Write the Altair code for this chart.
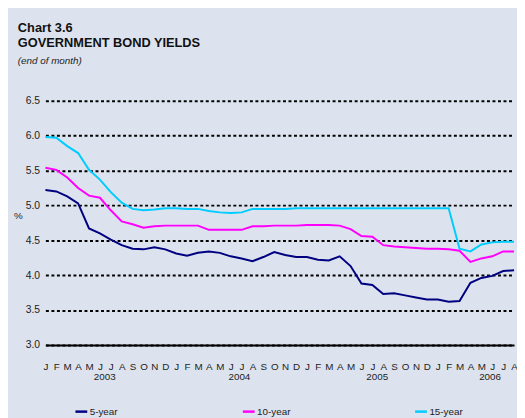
import altair as alt
import pandas as pd

# ---- data ----
month_letters = ["J", "F", "M", "A", "M", "J", "J", "A", "S", "O", "N", "D"]
month_index = list(range(44))  # Jan 2003 .. Aug 2006

yield_5 = [5.22, 5.20, 5.13, 5.03, 4.67, 4.60, 4.51, 4.43, 4.38, 4.37, 4.40, 4.37,
           4.31, 4.28, 4.32, 4.34, 4.32, 4.27, 4.24, 4.20, 4.26, 4.33, 4.29, 4.26,
           4.26, 4.22, 4.21, 4.27, 4.13, 3.88, 3.86, 3.73, 3.74, 3.71, 3.68, 3.65,
           3.65, 3.62, 3.63, 3.89, 3.96, 3.99, 4.06, 4.07]
yield_10 = [5.54, 5.51, 5.40, 5.25, 5.14, 5.11, 4.93, 4.77, 4.73, 4.68, 4.70, 4.71,
            4.71, 4.71, 4.71, 4.65, 4.65, 4.65, 4.65, 4.70, 4.70, 4.71, 4.71, 4.71,
            4.72, 4.72, 4.72, 4.71, 4.66, 4.56, 4.55, 4.43, 4.41, 4.40, 4.39, 4.38,
            4.38, 4.37, 4.35, 4.19, 4.24, 4.27, 4.34, 4.34]
yield_15 = [5.98, 5.97, 5.85, 5.75, 5.51, 5.37, 5.19, 5.04, 4.95, 4.93, 4.94, 4.96,
            4.96, 4.95, 4.95, 4.92, 4.90, 4.89, 4.90, 4.95, 4.95, 4.95, 4.95, 4.96,
            4.96, 4.96, 4.96, 4.96, 4.96, 4.96, 4.96, 4.96, 4.96, 4.96, 4.96, 4.96,
            4.96, 4.96, 4.38, 4.34, 4.44, 4.47, 4.48, 4.48]

series_names = ["5-year", "10-year", "15-year"]
series_colors = ["#000080", "#ff00ff", "#00ccff"]

year_labels = ["2003", "2004", "2005", "2006"]
year_pos = [5.45, 17.8, 30.45, 40.8]

y_ticks = [3.0, 3.5, 4.0, 4.5, 5.0, 5.5, 6.0, 6.5]

# ---- tables ----
rows = []
for name, vals in zip(series_names, [yield_5, yield_10, yield_15]):
    for i, v in zip(month_index, vals):
        rows.append({"month": i, "series": name, "order": series_names.index(name), "value": v})
df = pd.DataFrame(rows)
years_df = pd.DataFrame({"year": year_labels, "pos": year_pos})

FONT = "Liberation Sans"
letters_js = "[" + ",".join("'%s'" % m for m in month_letters) + "]"

x_scale = alt.Scale(domain=[0, 43], nice=False, zero=False)
x_axis = alt.Axis(title=None, values=month_index, grid=False, ticks=False,
                  labelExpr=letters_js + "[datum.value % 12]",
                  labelFont=FONT, labelFontSize=10, labelColor="#222222",
                  labelPadding=17, labelBaseline="top", labelFlush=False,
                  labelOverlap=False, labelSeparation=0, labelBound=False,
                  domainColor="#000000", domainWidth=2)

lines = alt.Chart(df).mark_line(strokeWidth=2).encode(
    x=alt.X("month:Q", scale=x_scale, axis=x_axis),
    y=alt.Y("value:Q", scale=alt.Scale(domain=[3.0, 6.5], nice=False, zero=False),
            axis=alt.Axis(title="%", titleAngle=0, titleFont=FONT, titleFontSize=10,
                          titleFontWeight="normal", titleColor="#222222",
                          titleX=-28, titleY=117, titleAlign="center", titleBaseline="middle",
                          values=y_ticks, format=".1f", ticks=False, domain=False,
                          labelFont=FONT, labelFontSize=10.5, labelColor="#222222",
                          labelPadding=6, grid=True, gridColor="#000000",
                          gridDash=[3, 2.6], gridWidth=2, gridOpacity=1)),
    color=alt.Color("series:N",
                    scale=alt.Scale(domain=series_names, range=series_colors),
                    legend=alt.Legend(orient="none", legendX=29, legendY=308,
                                      direction="horizontal", title=None,
                                      symbolType="stroke", symbolStrokeWidth=2.5,
                                      symbolSize=144, labelFont=FONT, labelFontSize=10,
                                      labelColor="#222222", labelOffset=1,
                                      columnPadding=121, padding=0)),
    order="order:Q",
    detail="series:N",
)

years = alt.Chart(years_df).mark_text(font=FONT, fontSize=10, color="#222222",
                                     align="center", baseline="alphabetic").encode(
    x=alt.X("pos:Q", scale=x_scale, axis=x_axis),
    y=alt.value(284),
    text="year:N",
)

chart = alt.layer(lines, years).properties(
    width=476,
    height=248,
    autosize=alt.AutoSizeParams(type="none"),
    padding={"left": 38, "top": 91, "right": 3, "bottom": 71},
    background="#dce3ee",
    title=alt.TitleParams(
        text=["Chart 3.6", "GOVERNMENT BOND YIELDS"],
        subtitle="(end of month)",
        anchor="start", frame="group", dx=-28, offset=30,
        font=FONT, fontSize=13, fontWeight="bold", color="#111111", lineHeight=15,
        subtitleFont=FONT, subtitleFontSize=10, subtitleFontStyle="italic",
        subtitleColor="#222222", subtitlePadding=7,
    ),
).configure_view(stroke=None).configure_axisX(labelOverlap=False)

chart.save("out.html", embed_options={"renderer": "svg", "actions": False})
